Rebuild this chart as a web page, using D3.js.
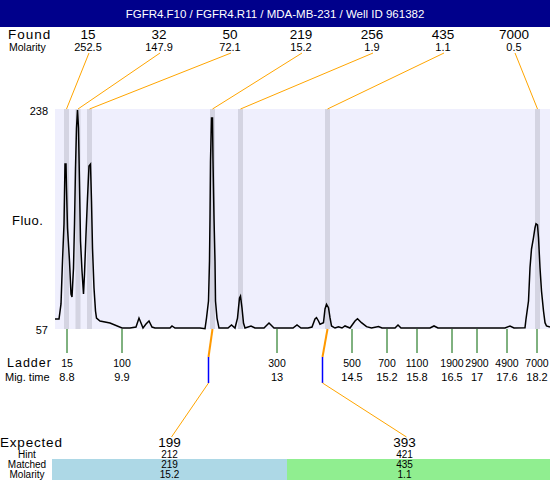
<!DOCTYPE html>
<html>
<head>
<meta charset="utf-8">
<script src="https://cdn.jsdelivr.net/npm/d3@7"></script>
<style>
  body { margin: 0; background: #fff; }
  svg { display: block; font-family: "Liberation Sans", Arial, sans-serif; }
</style>
</head>
<body>
<svg id="chart" width="550" height="480"></svg>
<script>
const title = 'FGFR4.F10 / FGFR4.R11 / MDA-MB-231 / Well ID 961382';

// peaks found by the caller
const foundSizes = [15, 32, 50, 219, 256, 435, 7000];
const foundMolarity = ['252.5', '147.9', '72.1', '15.2', '1.9', '1.1', '0.5'];
const foundTimes = [8.79, 9.02, 9.25, 11.71, 12.27, 14.01, 18.21];

// ladder
const ladderSizes = [15, 100, 300, 500, 700, 1100, 1900, 2900, 4900, 7000];
const ladderTimes = [8.8, 9.9, 13, 14.5, 15.2, 15.8, 16.5, 17, 17.6, 18.2];

// expected / matched table
const expectedSizes = [199, 393];
const expectedTimes = [11.62, 13.9];
const hintSizes = [212, 421];
const matchedSizes = [219, 435];
const matchedTimes = [11.71, 14.01];
const matchedMolarity = ['15.2', '1.1'];

const fluoRange = [57, 238];

// electropherogram, [mig. time, fluorescence]
const trace = [
  [8.56, 65.2], [8.64, 65.2], [8.68, 77.6], [8.71, 113], [8.74, 143.4], [8.76, 192.7],
  [8.78, 192.7], [8.79, 173], [8.81, 140.1], [8.85, 113], [8.88, 85.8], [8.90, 83.3],
  [8.93, 107.2], [8.95, 143.4], [8.97, 189.5], [8.99, 222.4], [9.01, 237.2], [9.03, 222.4],
  [9.05, 176.3], [9.07, 129.4], [9.10, 104.7], [9.13, 85.8], [9.15, 102.2], [9.18, 135.2],
  [9.21, 164.8], [9.24, 191.1], [9.27, 192.7], [9.29, 162.3], [9.31, 123.6], [9.34, 90.7],
  [9.37, 71.8], [9.39, 66.0], [9.46, 63.6], [9.66, 61.9], [9.90, 57.8], [10.06, 57.8],
  [10.18, 58.6], [10.24, 66.0], [10.28, 61.9], [10.32, 57.8], [10.38, 61.1], [10.44, 63.6],
  [10.50, 58.6], [10.56, 57.8], [10.86, 57.8], [10.90, 59.5], [10.96, 57.8], [11.20, 57.8],
  [11.46, 57.8], [11.56, 57.2], [11.59, 66.0], [11.63, 80.0], [11.65, 113], [11.66, 148.3],
  [11.67, 195.2], [11.69, 230.6], [11.71, 230.6], [11.72, 195.2], [11.74, 148.3], [11.76, 113],
  [11.77, 80.0], [11.80, 66.0], [11.84, 57.8], [12.02, 57.8], [12.09, 60.3], [12.16, 57.8],
  [12.21, 66.0], [12.25, 82.5], [12.27, 84.1], [12.30, 74.3], [12.33, 61.9], [12.36, 57.8],
  [12.48, 59.5], [12.56, 57.8], [12.74, 57.8], [12.84, 61.9], [12.94, 57.8], [13.32, 57.8],
  [13.40, 60.3], [13.48, 57.8], [13.62, 57.8], [13.70, 58.6], [13.76, 65.2], [13.79, 66.3],
  [13.83, 63.6], [13.86, 60.9], [13.93, 62.2], [13.96, 73.5], [13.99, 77.3], [14.03, 74.5],
  [14.06, 66.3], [14.09, 59.5], [14.16, 57.8], [14.23, 58.9], [14.30, 57.8], [14.36, 59.5],
  [14.46, 57.8], [14.56, 63.6], [14.61, 65.5], [14.69, 62.2], [14.79, 58.9], [14.89, 57.8],
  [15.03, 59.1], [15.10, 57.8], [15.36, 57.8], [15.42, 60.3], [15.48, 57.8], [16.06, 57.8],
  [16.14, 59.5], [16.22, 57.8], [17.56, 57.8], [17.66, 59.5], [17.74, 57.8], [17.96, 58.1],
  [17.98, 65.2], [18.03, 80.0], [18.06, 107.4], [18.09, 122.8], [18.13, 132.1], [18.16, 140.3],
  [18.18, 143.6], [18.21, 142.6], [18.23, 132.1], [18.26, 107.4], [18.29, 88.3], [18.33, 71.8],
  [18.36, 62.2], [18.39, 59.5], [18.46, 58.6]
];

const svg = d3.select('#chart');
const plot = { left: 55, right: 550, top: 109, bottom: 329 };

const x = d3.scaleLinear().domain([8.56, 18.46]).range([plot.left, plot.right]);
const y = d3.scaleLinear().domain(fluoRange).range([plot.bottom, plot.top]);
const foundX = d3.scalePoint().domain(d3.range(foundSizes.length)).range([88, 514]);
const colX = d3.scaleBand().domain(d3.range(expectedSizes.length)).range([52, 522]);

const orange = '#ffa500';

// title bar
svg.append('rect').attr('width', 550).attr('height', 27).attr('fill', '#00008b');
svg.append('text').attr('x', 275).attr('y', 18).attr('text-anchor', 'middle')
  .attr('fill', '#fff').attr('font-size', 11.5).text(title);

// found row
svg.append('text').attr('x', 8).attr('y', 39).attr('font-size', 13.5)
  .attr('letter-spacing', 1).text('Found');
svg.append('text').attr('x', 9).attr('y', 51).attr('font-size', 10.5).text('Molarity');

svg.selectAll('.found').data(foundSizes).enter().append('text')
  .attr('x', (d, i) => foundX(i)).attr('y', 39)
  .attr('text-anchor', 'middle').attr('font-size', 13.5).text(d => d);
svg.selectAll('.fmol').data(foundMolarity).enter().append('text')
  .attr('x', (d, i) => foundX(i)).attr('y', 51)
  .attr('text-anchor', 'middle').attr('font-size', 11).text(d => d);

// plot background
svg.append('rect').attr('x', plot.left).attr('y', plot.top)
  .attr('width', plot.right - plot.left).attr('height', plot.bottom - plot.top)
  .attr('fill', '#efeffd');

// peak bands
svg.selectAll('.band').data(foundTimes).enter().append('rect')
  .attr('x', d => x(d) - 2.5).attr('y', plot.top)
  .attr('width', 5).attr('height', plot.bottom - plot.top)
  .attr('fill', '#d4d4e2');

// leader lines from found labels to peaks
svg.selectAll('.lead').data(foundTimes).enter().append('line')
  .attr('x1', (d, i) => foundX(i) + 1).attr('y1', 53)
  .attr('x2', d => x(d)).attr('y2', plot.top)
  .attr('stroke', orange).attr('stroke-width', 1);

// y labels
svg.append('text').attr('x', 48).attr('y', plot.top + 6).attr('text-anchor', 'end')
  .attr('font-size', 11).text(fluoRange[1]);
svg.append('text').attr('x', 48).attr('y', plot.bottom + 5).attr('text-anchor', 'end')
  .attr('font-size', 11).text(fluoRange[0]);
svg.append('text').attr('x', 12).attr('y', 225).attr('font-size', 13)
  .attr('letter-spacing', 0.5).text('Fluo.');

// trace
const line = d3.line().x(d => x(d[0])).y(d => y(d[1]));
svg.append('path').datum(trace).attr('d', line)
  .attr('fill', 'none').attr('stroke', '#000').attr('stroke-width', 1.5);

// ladder
svg.selectAll('.ltick').data(ladderTimes).enter().append('line')
  .attr('x1', d => x(d)).attr('x2', d => x(d))
  .attr('y1', plot.bottom).attr('y2', 353)
  .attr('stroke', '#006400').attr('stroke-width', 1);
svg.selectAll('.lsize').data(ladderSizes).enter().append('text')
  .attr('x', (d, i) => x(ladderTimes[i])).attr('y', 367)
  .attr('text-anchor', 'middle').attr('font-size', 10.5).text(d => d);
svg.selectAll('.ltime').data(ladderTimes).enter().append('text')
  .attr('x', d => x(d)).attr('y', 381)
  .attr('text-anchor', 'middle').attr('font-size', 11).text(d => d);
svg.append('text').attr('x', 7).attr('y', 367).attr('font-size', 12.5)
  .attr('letter-spacing', 1).text('Ladder');
svg.append('text').attr('x', 5).attr('y', 381).attr('font-size', 11).text('Mig. time');

// expected connectors: peak -> expected position -> table column
const connect = d3.line();
expectedTimes.forEach((t, i) => {
  const ex = Math.round(x(t)) + 0.5;
  const cx = colX(i) + colX.bandwidth() / 2;
  svg.append('path')
    .attr('d', connect([[x(matchedTimes[i]), plot.bottom], [ex, 357]]))
    .attr('fill', 'none').attr('stroke', '#ff9900').attr('stroke-width', 2);
  svg.append('path')
    .attr('d', connect([[ex, 357], [ex, 383]]))
    .attr('fill', 'none').attr('stroke', '#0000ff').attr('stroke-width', 1.5);
  svg.append('path')
    .attr('d', connect([[ex, 383], [cx + 2, 437]]))
    .attr('fill', 'none').attr('stroke', orange).attr('stroke-width', 1);
});

// table
svg.append('rect').attr('x', colX(0)).attr('y', 459).attr('width', colX.bandwidth())
  .attr('height', 21).attr('fill', '#add8e6');
svg.append('rect').attr('x', colX(1)).attr('y', 459).attr('width', 550 - colX(1))
  .attr('height', 21).attr('fill', '#90ee90');

svg.append('text').attr('x', 0).attr('y', 447).attr('font-size', 13.5)
  .attr('letter-spacing', 0.8).text('Expected');
const rowLabels = [['Hint', 458], ['Matched', 468], ['Molarity', 478]];
rowLabels.forEach(r => {
  svg.append('text').attr('x', 27).attr('y', r[1]).attr('text-anchor', 'middle')
    .attr('font-size', 10).text(r[0]);
});

const rows = [[expectedSizes, 447, 13.5], [hintSizes, 458, 10], [matchedSizes, 468, 10], [matchedMolarity, 478, 10]];
rows.forEach(r => {
  svg.selectAll(null).data(r[0]).enter().append('text')
    .attr('x', (d, i) => colX(i) + colX.bandwidth() / 2).attr('y', r[1])
    .attr('text-anchor', 'middle').attr('font-size', r[2]).text(d => d);
});
</script>
</body>
</html>
